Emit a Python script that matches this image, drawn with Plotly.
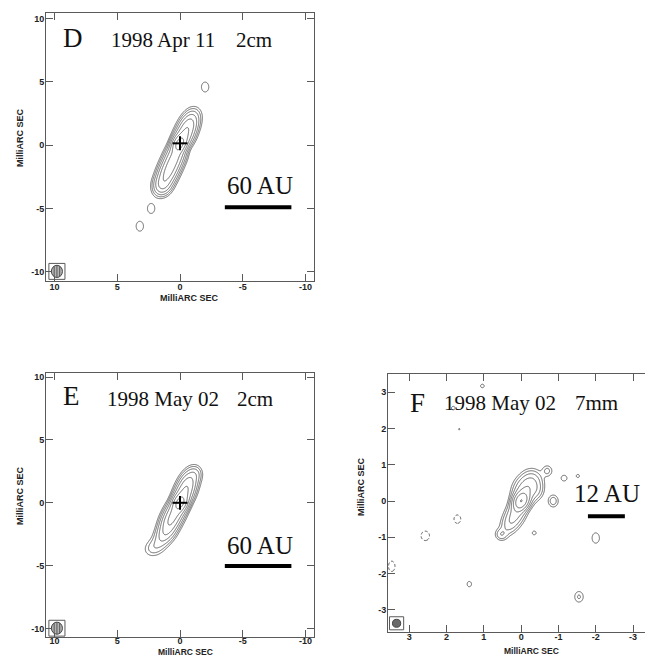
import numpy as np
import plotly.graph_objects as go

W, H = 645, 657

# ---------------------------------------------------------------------------
# Source models: Gaussian components in milliarcseconds.
# x = RA offset (east positive), y = Dec offset, peak in units of the lowest
# contour, sigma along / across the component, position angle (deg, N->E).
# ---------------------------------------------------------------------------
D_X    = [1.34, 0.98, 0.65, 0.33, 0.05, -0.33, -0.65, -0.94, -2.0, 2.3, 3.2]
D_Y    = [-3.02, -2.19, -1.46, -0.73, 0.10, 0.73, 1.46, 2.10, 4.6, -5.0, -6.4]
D_PEAK = [22, 30, 30, 30, 75, 28, 20, 7, 1.6, 1.6, 1.6]
D_SMAJ = [0.5, 0.5, 0.5, 0.5, 0.42, 0.5, 0.5, 0.5, 0.4, 0.4, 0.4]
D_SMIN = [0.38, 0.38, 0.38, 0.38, 0.30, 0.38, 0.38, 0.38, 0.3, 0.3, 0.3]
D_PA   = [-24, -24, -24, -24, -24, -24, -24, -24, 0, 0, 0]

E_X    = [2.05, 1.45, 1.05, 0.75, 0.38, 0.0, -0.33, -0.62, -0.88, -1.25]
E_Y    = [-3.55, -2.85, -2.2, -1.45, -0.72, 0.0, 0.73, 1.45, 2.05, 2.3]
E_PEAK = [3.0, 5, 14, 26, 30, 75, 28, 18, 6, 2.5]
E_SMAJ = [0.5, 0.5, 0.5, 0.5, 0.5, 0.42, 0.5, 0.5, 0.5, 0.35]
E_SMIN = [0.40, 0.38, 0.38, 0.38, 0.38, 0.32, 0.38, 0.38, 0.38, 0.3]
E_PA   = [-60, -30, -28, -28, -28, -24, -24, -24, -24, 0]

F_X    = [0.0, -0.12, -0.30, -0.40, 0.15, 0.32, 0.53,
          -0.70, -1.15, -1.52, -0.86, -0.35, -2.0, -1.55, 1.39, 1.04, 1.82, 1.66,
          1.71, 2.57, 3.47]
F_Y    = [0.0, 0.30, 0.55, 0.30, -0.35, -0.65, -0.92,
          0.83, 0.63, 0.69, 0.0, -0.88, -1.02, -2.64, -2.29, 3.17, 2.56, 1.98,
          -0.50, -0.96, -1.80]
F_PEAK = [58, 14, 5, 3, 10, 4, 3.5,
          2.5, 1.6, 1.2, 3.0, 1.3, 1.8, 2.2, 1.3, 1.2, 1.2, 1.05,
          -1.8, -2.0, -1.8]
F_SMAJ = [0.15, 0.22, 0.18, 0.15, 0.22, 0.18, 0.10,
          0.10, 0.08, 0.07, 0.11, 0.07, 0.13, 0.115, 0.10, 0.08, 0.08, 0.06,
          0.106, 0.11, 0.13]
F_SMIN = [0.11, 0.17, 0.16, 0.12, 0.14, 0.13, 0.10,
          0.09, 0.08, 0.07, 0.09, 0.07, 0.09, 0.09, 0.08, 0.08, 0.08, 0.06,
          0.083, 0.095, 0.08]
F_PA   = [-25, -20, 0, 0, -25, -25, 0,
          0, 0, 0, 0, 0, 0, 0, 0, 0, 0, 0,
          0, 0, 0]

# contour levels: lowest level times powers of two
POS_LEVELS = [1, 2, 4, 8, 16, 32, 64]
NEG_LEVEL = -1

# phase-centre markers (x, y) for panels D and E
CROSS_D = (0.0, 0.15)
CROSS_E = (0.0, 0.0)

# linear scale bars: label and length in mas
BAR_LABELS = ["60 AU", "60 AU", "12 AU"]
BAR_MAS = [5.3, 5.3, 0.99]

TITLES = [("D", "1998 Apr 11", "2cm"), ("E", "1998 May 02", "2cm"), ("F", "1998 May 02", "7mm")]

TICKS_DE = [10, 5, 0, -5, -10]
TICKS_F = [3, 2, 1, 0, -1, -2, -3]

LINE = "#444444"
FRAME = "#5a5a5a"


def model(xg, yg, xs, ys, peaks, smaj, smin, pas):
    X, Y = np.meshgrid(xg, yg)
    z = np.zeros_like(X)
    for x0, y0, a, sa, sc, pa in zip(xs, ys, peaks, smaj, smin, pas):
        t = np.radians(pa)
        dx, dy = X - x0, Y - y0
        along = dx * np.sin(t) + dy * np.cos(t)
        across = dx * np.cos(t) - dy * np.sin(t)
        z += a * np.exp(-0.5 * ((along / sa) ** 2 + (across / sc) ** 2))
    return z


def px_dom(a, b, total, flip=False):
    if flip:
        return [1 - b / total, 1 - a / total]
    return [a / total, b / total]


fig = go.Figure()

panels = [
    dict(name="D", xa="x", ya="y", comps=(D_X, D_Y, D_PEAK, D_SMAJ, D_SMIN, D_PA),
         gx=(-3.2, 4.2, 0.03), gy=(-7.4, 5.6, 0.03),
         xdom=(46, 314), ydom=(13, 281), xr=[10.67, -10.67], yr=[-10.73, 10.45],
         ticks=TICKS_DE, xstand=-3),
    dict(name="E", xa="x2", ya="y2", comps=(E_X, E_Y, E_PEAK, E_SMAJ, E_SMIN, E_PA),
         gx=(-3.2, 4.0, 0.03), gy=(-6.0, 4.5, 0.03),
         xdom=(46, 314), ydom=(373, 637), xr=[10.67, -10.67], yr=[-10.67, 10.32],
         ticks=TICKS_DE, xstand=-5),
    dict(name="F", xa="x3", ya="y3", comps=(F_X, F_Y, F_PEAK, F_SMAJ, F_SMIN, F_PA),
         gx=(-2.4, 3.65, 0.012), gy=(-3.0, 3.45, 0.012),
         xdom=(388, 645), ydom=(374, 632), xr=[3.57, -3.32], yr=[-3.61, 3.5],
         ticks=TICKS_F, xstand=-4),
]

for p in panels:
    xg = np.arange(*p["gx"])
    yg = np.arange(*p["gy"])
    z = model(xg, yg, *p["comps"])
    zlog = np.log2(np.clip(z, 1e-4, None))
    fig.add_trace(go.Contour(
        x=xg, y=yg, z=zlog.astype(np.float32), xaxis=p["xa"], yaxis=p["ya"],
        autocontour=False,
        contours=dict(start=np.log2(POS_LEVELS[0]), end=np.log2(POS_LEVELS[-1]),
                      size=1, coloring="none"),
        line=dict(color=LINE, width=0.8), showscale=False, hoverinfo="skip",
    ))
    if (np.asarray(p["comps"][2]) < 0).any():
        fig.add_trace(go.Contour(
            x=xg, y=yg, z=(-z).astype(np.float32), xaxis=p["xa"], yaxis=p["ya"],
            autocontour=False,
            contours=dict(start=-NEG_LEVEL, end=-NEG_LEVEL, size=1, coloring="none"),
            line=dict(color=LINE, width=0.9, dash="3px,2px"), showscale=False,
            hoverinfo="skip",
        ))

axis_font = dict(family="Liberation Sans, Arial", size=9, color="#222", weight="bold")
layout = dict(width=W, height=H, margin=dict(l=0, r=0, t=0, b=0),
              paper_bgcolor="white", plot_bgcolor="white", showlegend=False)

for i, p in enumerate(panels):
    sx = "" if i == 0 else str(i + 1)
    layout["xaxis" + sx] = dict(
        domain=px_dom(*p["xdom"], W), range=p["xr"], anchor=p["ya"],
        tickvals=p["ticks"], ticktext=[str(v) for v in p["ticks"]],
        ticks="inside", ticklen=7, tickcolor=FRAME, tickwidth=1,
        showline=True, linecolor=FRAME, linewidth=1, mirror="ticks",
        showgrid=False, zeroline=False, tickfont=axis_font, fixedrange=True,
        ticklabelstandoff=p["xstand"])
    layout["yaxis" + sx] = dict(
        domain=px_dom(*p["ydom"], H, flip=True), range=p["yr"], anchor=p["xa"],
        tickvals=p["ticks"], ticktext=[str(v) for v in p["ticks"]],
        ticks="inside", ticklen=7, tickcolor=FRAME, tickwidth=1,
        showline=True, linecolor=FRAME, linewidth=1,
        mirror="ticks" if p["name"] != "F" else False,
        showgrid=False, zeroline=False, tickfont=axis_font, fixedrange=True,
        ticklabelstandoff=-1)

fig.update_layout(**layout)

serif = "Liberation Serif, Times New Roman, serif"
annotations = []
shapes = []

# panel labels, epochs and bands (data coordinates of each panel)
title_pos = [
    dict(letter=(8.5, 8.5), date=(5.64, 8.3), band=(-4.29, 8.3)),
    dict(letter=(8.66, 8.5), date=(5.96, 8.22), band=(-4.37, 8.22)),
    dict(letter=(2.78, 2.71), date=(2.11, 2.7), band=(-1.39, 2.7)),
]
bar_pos = [
    dict(text=(-6.35, -3.17), x0=-3.57, y=-4.9),
    dict(text=(-6.35, -3.37), x0=-3.57, y=-5.02),
    dict(text=(-2.3, 0.2), x0=-1.79, y=-0.42),
]

for i, p in enumerate(panels):
    xr, yr = p["xa"], p["ya"]
    letter, date, band = TITLES[i]
    tp = title_pos[i]
    annotations.append(dict(x=tp["letter"][0], y=tp["letter"][1], xref=xr, yref=yr,
                            text=letter, showarrow=False, xanchor="center", yanchor="middle",
                            font=dict(family=serif, size=27, color="#111")))
    annotations.append(dict(x=tp["date"][0], y=tp["date"][1], xref=xr, yref=yr,
                            text=date, showarrow=False, xanchor="left", yanchor="middle",
                            font=dict(family=serif, size=21, color="#111")))
    annotations.append(dict(x=tp["band"][0], y=tp["band"][1], xref=xr, yref=yr,
                            text=band, showarrow=False, xanchor="left", yanchor="middle",
                            font=dict(family=serif, size=21, color="#111")))
    bp = bar_pos[i]
    annotations.append(dict(x=bp["text"][0], y=bp["text"][1], xref=xr, yref=yr,
                            text=BAR_LABELS[i], showarrow=False, xanchor="center",
                            yanchor="middle", font=dict(family=serif, size=25, color="#111")))
    shapes.append(dict(type="line", xref=xr, yref=yr, x0=bp["x0"], x1=bp["x0"] - BAR_MAS[i],
                       y0=bp["y"], y1=bp["y"], line=dict(color="black", width=4)))

# axis titles (paper pixel positions)
title_font_small = dict(axis_font, size=8.5)
ax_titles = [((189, 298), (20, 138), axis_font),
             ((185, 652), (20, 496), title_font_small),
             ((531, 651), (361, 486), title_font_small)]
for (xt, yt, fnt) in ax_titles:
    annotations.append(dict(x=xt[0] / W, y=1 - xt[1] / H, xref="paper", yref="paper",
                            text="MilliARC SEC", showarrow=False, xanchor="center",
                            yanchor="middle", font=fnt))
    annotations.append(dict(x=yt[0] / W, y=1 - yt[1] / H, xref="paper", yref="paper",
                            text="MilliARC SEC", showarrow=False, xanchor="center",
                            yanchor="middle", textangle=-90, font=axis_font))

# phase-centre crosses
for (cx, cy), xr, yr in [(CROSS_D, "x", "y"), (CROSS_E, "x2", "y2")]:
    shapes.append(dict(type="line", xref=xr, yref=yr, x0=cx + 0.6, x1=cx - 0.6, y0=cy, y1=cy,
                       line=dict(color="black", width=2)))
    shapes.append(dict(type="line", xref=xr, yref=yr, x0=cx, x1=cx, y0=cy - 0.55, y1=cy + 0.55,
                       line=dict(color="black", width=2)))

# restoring beams in their boxes: centre, radius x/y, box half size x/y
BEAMS = [
    dict(xr="x", yr="y", c=(9.8, -9.97), r=(0.44, 0.48), box=(0.64, 0.63), hatch=True),
    dict(xr="x2", yr="y2", c=(9.8, -9.97), r=(0.44, 0.48), box=(0.64, 0.63), hatch=True),
    dict(xr="x3", yr="y3", c=(3.34, -3.37), r=(0.11, 0.11), box=(0.19, 0.18), hatch=False),
]
for b in BEAMS:
    cx, cy = b["c"]
    rx, ry = b["r"]
    bx, by = b["box"]
    shapes.append(dict(type="rect", xref=b["xr"], yref=b["yr"], x0=cx + bx, x1=cx - bx,
                       y0=cy - by, y1=cy + by, line=dict(color=FRAME, width=1)))
    shapes.append(dict(type="circle", xref=b["xr"], yref=b["yr"], x0=cx + rx, x1=cx - rx,
                       y0=cy - ry, y1=cy + ry,
                       fillcolor="#b5b5b5" if b["hatch"] else "#6a6a6a",
                       line=dict(color="#444", width=1)))
    if b["hatch"]:
        for f in (-0.5, 0.0, 0.5):
            hx = cx + f * rx
            hy = ry * np.sqrt(1 - f ** 2)
            shapes.append(dict(type="line", xref=b["xr"], yref=b["yr"], x0=hx, x1=hx,
                               y0=cy - hy, y1=cy + hy, line=dict(color="#555", width=1)))

fig.update_layout(annotations=annotations, shapes=shapes)
fig.write_html("out.html")
